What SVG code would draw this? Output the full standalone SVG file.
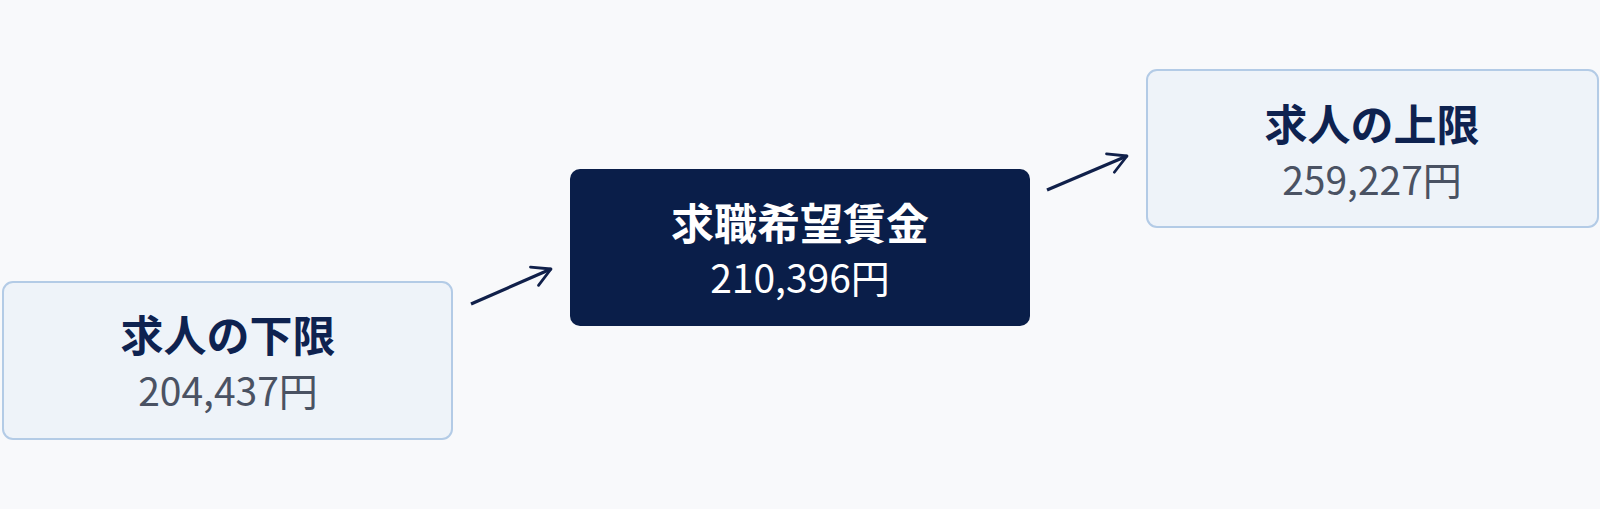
<svg xmlns="http://www.w3.org/2000/svg" width="1600" height="509" viewBox="0 0 1600 509">
<defs>
<style>
.light rect{fill:#eef3f9;stroke:#b3cbe6;stroke-width:2}
.dark rect{fill:#0a1e49}
.t{font-family:"Noto Sans CJK JP","Noto Sans",sans-serif;text-anchor:middle}
.title{font-size:43px;font-weight:700}
.val{font-size:39px;font-weight:400}
.light .title{fill:#0e2250}
.light .val{fill:#4a5263}
.dark text{fill:#ffffff}
.conn line{stroke:#10204a;stroke-width:3.2;fill:none;marker-end:url(#ah)}
</style>
<marker id="ah" viewBox="0 0 12 12" refX="10" refY="6" markerWidth="7.5" markerHeight="7.5" orient="auto" markerUnits="strokeWidth">
<path d="M1,1 L10,6 L1,11" fill="none" stroke="#10204a" stroke-width="1.4" stroke-linecap="round" stroke-linejoin="round"/>
</marker>
</defs>
<rect width="1600" height="509" fill="#f8f9fb"/>
<g id="lower" class="light">
<rect x="3" y="282" width="449" height="157" rx="10"/>
<text class="t title" x="228" y="352">求人の下限</text>
<text class="t val" x="228" y="406">204,437円</text>
</g>
<g id="wage" class="dark">
<rect x="570" y="169" width="460" height="157" rx="10"/>
<text class="t title" x="800" y="240">求職希望賃金</text>
<text class="t val" x="800" y="293">210,396円</text>
</g>
<g id="upper" class="light">
<rect x="1147" y="70" width="451" height="157" rx="10"/>
<text class="t title" x="1372" y="141">求人の上限</text>
<text class="t val" x="1372" y="195">259,227円</text>
</g>
<g id="connectors" class="conn">
<line x1="471" y1="304" x2="551" y2="269"/>
<line x1="1047" y1="190" x2="1127" y2="156"/>
</g>
</svg>
